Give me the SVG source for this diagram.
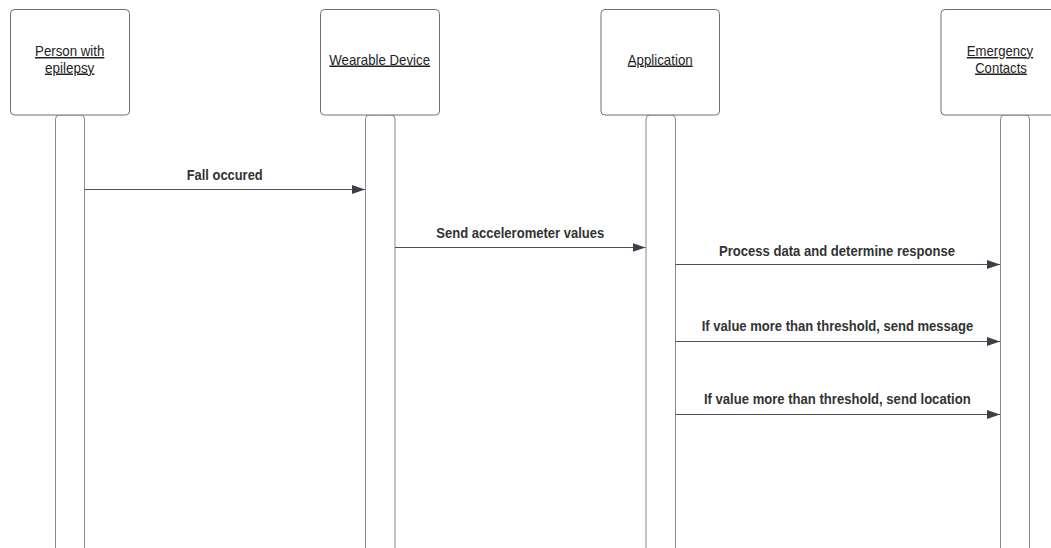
<svg xmlns="http://www.w3.org/2000/svg" width="1051" height="548" viewBox="0 0 1051 548">
  <style>
    .head { fill: #ffffff; stroke: #6f6f6f; stroke-width: 1; }
    .bar { fill: #ffffff; stroke: #8a8a8a; stroke-width: 1; }
    .name { font-family: "Liberation Sans", Arial, sans-serif; font-size: 15px; fill: #222222; text-anchor: middle; text-decoration: underline; }
    .msg { font-family: "Liberation Sans", Arial, sans-serif; font-size: 15.5px; font-weight: bold; fill: #333333; text-anchor: middle; }
    .call { stroke: #4a4f57; stroke-width: 1; fill: none; marker-end: url(#head); }
  </style>
  <defs>
    <marker id="head" markerUnits="userSpaceOnUse" markerWidth="14" markerHeight="10" refX="13" refY="4.5" orient="auto">
      <path d="M0,0 L13,4.5 L0,9 Z" fill="#3b4049"/>
    </marker>
  </defs>
  <rect width="1051" height="548" fill="#ffffff"/>

  <g id="person">
    <rect class="bar" x="55.5" y="115" width="29" height="450" rx="4"/>
    <rect class="head" x="10.5" y="9.5" width="119" height="105.5" rx="4"/>
    <text class="name" x="69.7" y="56" textLength="69.3" lengthAdjust="spacingAndGlyphs">Person with</text>
    <text class="name" x="69.7" y="72.5" textLength="49.3" lengthAdjust="spacingAndGlyphs">epilepsy</text>
  </g>

  <g id="wearable">
    <rect class="bar" x="365.5" y="115" width="29.5" height="450" rx="4"/>
    <rect class="head" x="320.5" y="9.5" width="119" height="105.5" rx="4"/>
    <text class="name" x="379.7" y="64.5" textLength="100.7" lengthAdjust="spacingAndGlyphs">Wearable Device</text>
  </g>

  <g id="application">
    <rect class="bar" x="646" y="115" width="29.5" height="450" rx="4"/>
    <rect class="head" x="601" y="9.5" width="118.5" height="105.5" rx="4"/>
    <text class="name" x="660.2" y="64.5" textLength="65" lengthAdjust="spacingAndGlyphs">Application</text>
  </g>

  <g id="contacts">
    <rect class="bar" x="1000.5" y="115" width="29" height="450" rx="4"/>
    <rect class="head" x="941" y="9.5" width="119" height="105.5" rx="4"/>
    <text class="name" x="1000" y="56" textLength="66.3" lengthAdjust="spacingAndGlyphs">Emergency</text>
    <text class="name" x="1001" y="72.5" textLength="51.7" lengthAdjust="spacingAndGlyphs">Contacts</text>
  </g>

  <g id="messages">
    <line class="call" x1="84.5" y1="189.5" x2="365" y2="189.5"/>
    <text class="msg" x="224.7" y="179.5" textLength="76" lengthAdjust="spacingAndGlyphs">Fall occured</text>

    <line class="call" x1="395" y1="247.5" x2="645.5" y2="247.5"/>
    <text class="msg" x="520.3" y="237.7" textLength="168" lengthAdjust="spacingAndGlyphs">Send accelerometer values</text>

    <line class="call" x1="675.5" y1="264.5" x2="1000" y2="264.5"/>
    <text class="msg" x="837" y="255.7" textLength="236" lengthAdjust="spacingAndGlyphs">Process data and determine response</text>

    <line class="call" x1="675.5" y1="341.5" x2="1000" y2="341.5"/>
    <text class="msg" x="837.5" y="330.7" textLength="271.6" lengthAdjust="spacingAndGlyphs">If value more than threshold, send message</text>

    <line class="call" x1="675.5" y1="414.5" x2="1000" y2="414.5"/>
    <text class="msg" x="837.3" y="404" textLength="266.7" lengthAdjust="spacingAndGlyphs">If value more than threshold, send location</text>
  </g>
</svg>
